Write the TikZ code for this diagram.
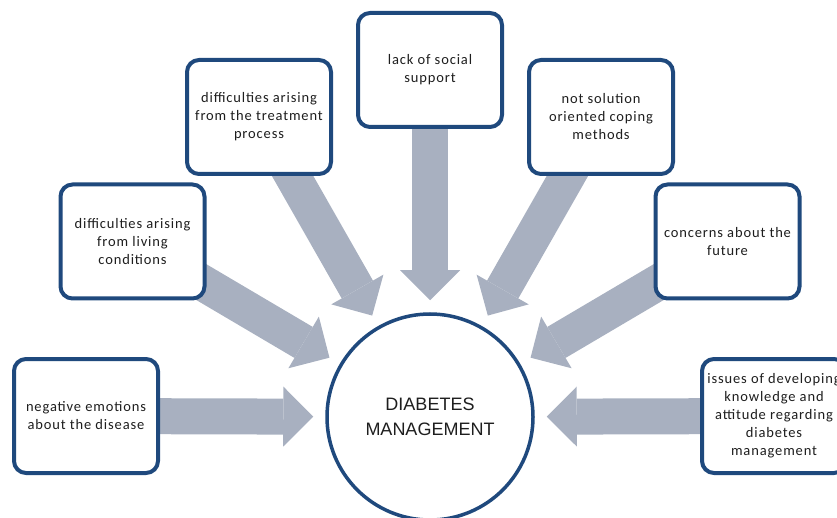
\documentclass[tikz,border=0pt]{standalone}
\usepackage{fontspec}
\newfontfamily\boxfont{Carlito}[LetterSpace=6]
\newfontfamily\circfont{Liberation Sans}
\usetikzlibrary{arrows.meta,backgrounds}
\definecolor{boxblue}{RGB}{31,73,125}
\definecolor{arrgray}{RGB}{168,176,192}
\definecolor{txt}{RGB}{30,30,30}
\begin{document}
\begin{tikzpicture}[x=1pt,y=-1pt,
  box/.style={draw=boxblue, line width=4pt, rounded corners=12pt, fill=white,
    minimum width=144pt, minimum height=114pt, align=center, inner sep=0pt,
    font=\boxfont\fontsize{14.5}{18}\selectfont, text=txt},
  hub/.style={circle, draw=boxblue, line width=3.5pt, fill=white, minimum size=206pt,
    align=center, font=\circfont\fontsize{18}{25}\selectfont, text=txt},
  blockarrow/.style={draw=arrgray, line width=36pt,
    -{Triangle[length=30pt,width=60pt,line width=0pt]}, shorten >=12pt}]
\useasboundingbox (0,0) rectangle (837,518);
\node[hub] (c) at (430,417) {DIABETES\\MANAGEMENT};
\node[box] (b1) at (86,416) {negative emotions\\about the disease};
\node[box] (b2) at (132.5,241.5) {difficulties arising\\from living\\conditions};
\node[box] (b3) at (259,117) {difficulties arising\\from the treatment\\process};
\node[box] (b4) at (430,70) {lack of social\\support};
\node[box] (b5) at (601,117) {not solution\\oriented coping\\methods};
\node[box] (b6) at (727.5,241.5) {concerns about the\\future};
\node[box] (b7) at (774,416) {issues of developing\\knowledge and\\attitude regarding\\diabetes\\management};
\begin{scope}[on background layer]
  \foreach \b in {b1,b2,b3,b4,b5,b6,b7}
    \draw[blockarrow] (\b.center) -- (c);
\end{scope}
\end{tikzpicture}
\end{document}
